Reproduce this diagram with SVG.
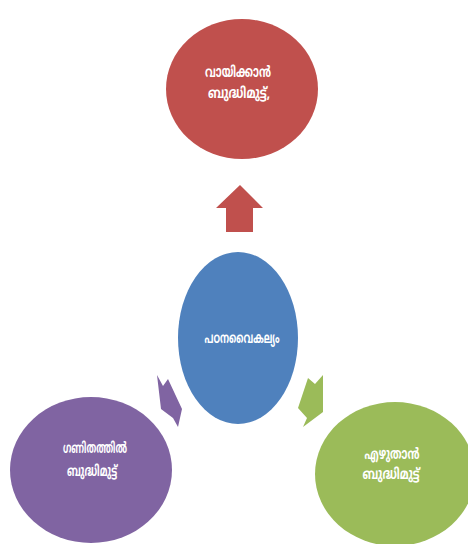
<svg xmlns="http://www.w3.org/2000/svg" width="468" height="544" viewBox="0 0 468 544">
<style>
.lbl{font-family:"Noto Sans Malayalam","Noto Sans","DejaVu Sans",sans-serif;font-size:15px;font-weight:bold;fill:#ffffff;text-anchor:middle}
</style>
<rect width="468" height="544" fill="#ffffff"/>
<g id="connectors">
<polygon fill="#C0504D" points="240,185 263,208 253,208 253,232 226,232 226,208 216,208"/>
<polygon fill="#8064A2" points="157,375 163,386 168,379 182,409 178,427 173,418 161,409"/>
<polygon fill="#9BBB59" points="308,378 315,384 323,375 323,412 303,427 307,418 298,408"/>
</g>
<g id="node-read">
<ellipse cx="242" cy="89" rx="76" ry="70" fill="#C0504D"/>
<text class="lbl" x="238" y="77" textLength="66" lengthAdjust="spacingAndGlyphs">വായിക്കാൻ</text>
<text class="lbl" x="239" y="98" textLength="62" lengthAdjust="spacingAndGlyphs">ബുദ്ധിമുട്ട്,</text>
</g>
<g id="node-center">
<ellipse cx="238" cy="338" rx="60" ry="86" fill="#4F81BD"/>
<text class="lbl" x="242" y="343" textLength="75" lengthAdjust="spacingAndGlyphs">പഠനവൈകല്യം</text>
</g>
<g id="node-math">
<ellipse cx="91" cy="470" rx="81" ry="73" fill="#8064A2"/>
<text class="lbl" x="95" y="453" textLength="64" lengthAdjust="spacingAndGlyphs">ഗണിതത്തിൽ</text>
<text class="lbl" x="92" y="476" textLength="50" lengthAdjust="spacingAndGlyphs">ബുദ്ധിമുട്ട്</text>
</g>
<g id="node-write">
<ellipse cx="395" cy="474" rx="80" ry="72" fill="#9BBB59"/>
<text class="lbl" x="392" y="459" textLength="55" lengthAdjust="spacingAndGlyphs">എഴുതാൻ</text>
<text class="lbl" x="391" y="479" textLength="57" lengthAdjust="spacingAndGlyphs">ബുദ്ധിമുട്ട്</text>
</g>
</svg>
